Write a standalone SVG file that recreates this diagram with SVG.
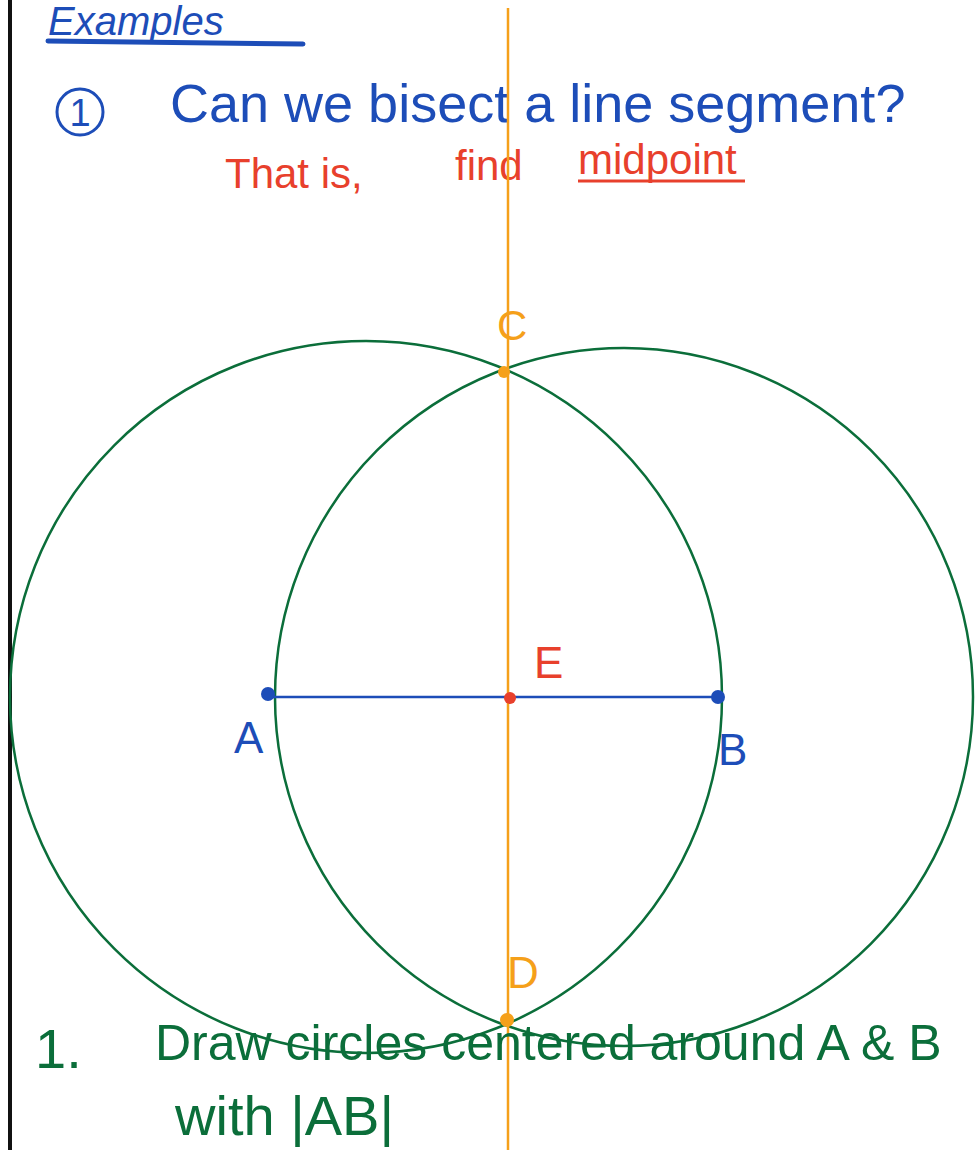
<svg xmlns="http://www.w3.org/2000/svg" width="975" height="1150" viewBox="0 0 975 1150">
<style>
.blue{fill:#1D4DB8;font-family:"Liberation Sans",sans-serif}
.red{fill:#E8402C;font-family:"Liberation Sans",sans-serif}
.green{fill:#0B6E3A;font-family:"Liberation Sans",sans-serif}
.orange{fill:#F5A01A;font-family:"Liberation Sans",sans-serif}
.circ{fill:none;stroke:#0B6E3A;stroke-width:2.5}
</style>
<rect width="975" height="1150" fill="#fff"/>
<line x1="10" y1="0" x2="10" y2="1150" stroke="#111" stroke-width="4"/>
<g id="title">
<text class="blue" x="48" y="35" font-size="40" font-style="italic">Examples</text>
<line x1="48" y1="41" x2="303" y2="44" stroke="#1D4DB8" stroke-width="5" stroke-linecap="round"/>
</g>
<g id="question">
<circle cx="80" cy="112" r="23" fill="none" stroke="#1D4DB8" stroke-width="3"/>
<text class="blue" x="80" y="126" font-size="38" text-anchor="middle">1</text>
<text class="blue" x="170" y="122" font-size="54">Can we bisect a line segment?</text>
</g>
<g id="subtitle">
<text class="red" x="225" y="188" font-size="42">That is,</text>
<text class="red" x="455" y="180" font-size="42">find</text>
<text class="red" x="578" y="174" font-size="42">midpoint</text>
<line x1="578" y1="181" x2="745" y2="181" stroke="#E8402C" stroke-width="3"/>
</g>
<g id="connectors">
<circle class="circ" cx="366" cy="697" r="356"/>
<circle class="circ" cx="624" cy="697" r="349"/>
<line x1="508" y1="8" x2="508" y2="1150" stroke="#F5A01A" stroke-width="2.5"/>
<line x1="269" y1="697" x2="718" y2="697" stroke="#1D4DB8" stroke-width="2.5"/>
</g>
<g id="node-C">
<circle cx="504" cy="372" r="6" fill="#F5A01A"/>
<text class="orange" x="497" y="340" font-size="42">C</text>
</g>
<g id="node-D">
<circle cx="507" cy="1020" r="7" fill="#F5A01A"/>
<text class="orange" x="507" y="988" font-size="44">D</text>
</g>
<g id="node-A">
<circle cx="268" cy="694" r="7" fill="#1D4DB8"/>
<text class="blue" x="234" y="753" font-size="44">A</text>
</g>
<g id="node-B">
<circle cx="718" cy="697" r="7" fill="#1D4DB8"/>
<text class="blue" x="718" y="765" font-size="44">B</text>
</g>
<g id="node-E">
<circle cx="510" cy="698" r="6" fill="#E8402C"/>
<text class="red" x="534" y="678" font-size="44">E</text>
</g>
<g id="step1">
<text class="green" x="35" y="1068" font-size="56">1.</text>
<text class="green" x="155" y="1060" font-size="50">Draw circles centered around A &amp; B</text>
<text class="green" x="175" y="1135" font-size="56">with |AB|</text>
</g>
</svg>
